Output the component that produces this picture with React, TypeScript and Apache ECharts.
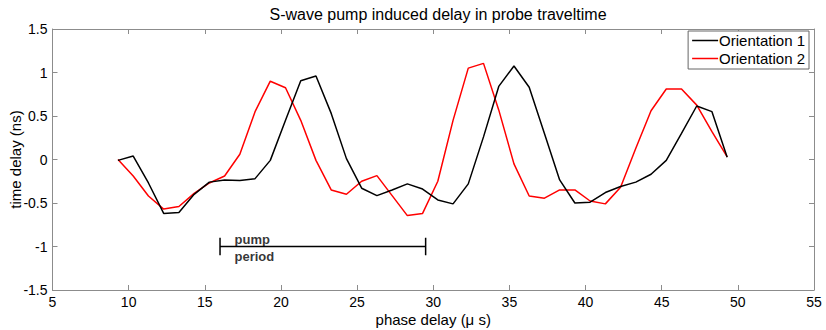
import React, { useEffect, useRef } from "react";
import * as echarts from "echarts";

const xStart = 9.3;
const xStep = 1.0;
const orientation1 = [
  -0.01, 0.04, -0.27, -0.62, -0.61, -0.4, -0.26, -0.235, -0.24, -0.22,
  -0.01, 0.45, 0.905, 0.96, 0.53, 0.01, -0.33, -0.415, -0.35, -0.28,
  -0.34, -0.465, -0.51, -0.28, 0.26, 0.84, 1.075, 0.83, 0.3, -0.235,
  -0.5, -0.49, -0.38, -0.31, -0.26, -0.17, -0.01, 0.3, 0.615, 0.55, 0.025,
];
const orientation2 = [
  0.0, -0.19, -0.42, -0.57, -0.54, -0.39, -0.27, -0.19, 0.06, 0.55,
  0.9, 0.825, 0.45, -0.01, -0.35, -0.4, -0.25, -0.185, -0.415, -0.645,
  -0.62, -0.25, 0.45, 1.05, 1.105, 0.57, -0.05, -0.42, -0.445, -0.35,
  -0.35, -0.477, -0.51, -0.32, 0.13, 0.56, 0.81, 0.81, 0.625, 0.32, 0.03,
];
const seriesNames = ["Orientation 1", "Orientation 2"];
const pumpStart = 16;
const pumpEnd = 29.5;
const pumpLevel = -1;
const pumpCap = 0.1;
const pumpLabels = [
  { text: "pump", x: 16.95, y: -0.915 },
  { text: "period", x: 16.95, y: -1.12 },
];

const FONT = "'Liberation Sans', Arial, Helvetica, sans-serif";
const AXIS_GRAY = "#8c8c8c";

export default function App() {
  const ref = useRef<HTMLDivElement>(null);
  useEffect(() => {
    if (!ref.current) return;
    const chart = echarts.init(ref.current, undefined, { renderer: "svg" });
    const toPairs = (arr: number[]) =>
      arr.map((v, i) => [+(xStart + i * xStep).toFixed(2), v]);
    const axisCommon = {
      axisLine: { show: true, onZero: false, lineStyle: { color: AXIS_GRAY, width: 1 } },
      axisTick: { show: true, inside: true, length: 5, lineStyle: { color: AXIS_GRAY } },
      splitLine: { show: false },
    };
    const option: any = {
      animation: false,
      backgroundColor: "#fff",
      textStyle: { fontFamily: FONT },
      title: {
        text: "S-wave pump induced delay in probe traveltime",
        left: 433,
        textAlign: "center",
        top: 1,
        textStyle: { fontSize: 16, fontWeight: "normal", color: "#000", fontFamily: FONT },
      },
      grid: { left: 52.5, right: 12, top: 29, bottom: 40, outerBoundsMode: "none", containLabel: false },
      legend: {
        data: seriesNames,
        orient: "vertical",
        right: 17,
        top: 31,
        icon: "rect",
        backgroundColor: "#fff",
        borderColor: "#666",
        borderWidth: 1,
        padding: [2, 4, 3, 4],
        itemGap: 3,
        itemWidth: 26,
        itemHeight: 1.5,
        textStyle: { fontSize: 15, color: "#000", fontFamily: FONT, padding: [0, 0, 0, -4] },
      },
      xAxis: [
        {
          type: "value",
          min: 5,
          max: 55,
          interval: 5,
          name: "phase delay (\u03bc s)",
          nameLocation: "middle",
          nameGap: 22,
          nameMoveOverlap: false,
          nameTextStyle: { fontSize: 15, color: "#000", fontFamily: FONT },
          axisLabel: { fontSize: 14, color: "#000", margin: 5, fontFamily: FONT },
          ...axisCommon,
        },
        {
          type: "value",
          position: "top",
          min: 5,
          max: 55,
          interval: 5,
          axisLabel: { show: false },
          ...axisCommon,
        },
      ],
      yAxis: [
        {
          type: "value",
          min: -1.5,
          max: 1.5,
          interval: 0.5,
          name: "time delay (ns)",
          nameLocation: "middle",
          nameGap: 30,
          nameMoveOverlap: false,
          nameTextStyle: { fontSize: 15, color: "#000", fontFamily: FONT },
          axisLabel: { fontSize: 14, color: "#000", margin: 5, fontFamily: FONT },
          ...axisCommon,
        },
        {
          type: "value",
          position: "right",
          min: -1.5,
          max: 1.5,
          interval: 0.5,
          axisLabel: { show: false },
          ...axisCommon,
        },
      ],
      series: [
        {
          name: seriesNames[0],
          type: "line",
          data: toPairs(orientation1),
          symbol: "none",
          lineStyle: { color: "#000", width: 1.5 },
          itemStyle: { color: "#000" },
          z: 3,
        },
        {
          name: seriesNames[1],
          type: "line",
          data: toPairs(orientation2),
          symbol: "none",
          lineStyle: { color: "#ff0000", width: 1.5 },
          itemStyle: { color: "#ff0000" },
          z: 2,
        },
        {
          name: "pumpBar",
          type: "line",
          data: [[pumpStart, pumpLevel], [pumpEnd, pumpLevel]],
          symbol: "none",
          lineStyle: { color: "#000", width: 1.5 },
          silent: true,
        },
        {
          name: "pumpCapL",
          type: "line",
          data: [[pumpStart, pumpLevel + pumpCap], [pumpStart, pumpLevel - pumpCap]],
          symbol: "none",
          lineStyle: { color: "#000", width: 1.5 },
          silent: true,
        },
        {
          name: "pumpCapR",
          type: "line",
          data: [[pumpEnd, pumpLevel + pumpCap], [pumpEnd, pumpLevel - pumpCap]],
          symbol: "none",
          lineStyle: { color: "#000", width: 1.5 },
          silent: true,
        },
        {
          name: "pumpText",
          type: "scatter",
          symbolSize: 0,
          silent: true,
          data: pumpLabels.map((p) => ({
            value: [p.x, p.y],
            label: {
              show: true,
              formatter: p.text,
              position: "right",
              distance: 0,
              fontSize: 13,
              fontWeight: "bold",
              color: "#000",
              fontFamily: FONT,
            },
          })),
        },
      ],
    };
    chart.setOption(option);
    return () => chart.dispose();
  }, []);
  return <div ref={ref} style={{ width: 826, height: 330, position: "absolute", left: 0, top: 0 }} />;
}
